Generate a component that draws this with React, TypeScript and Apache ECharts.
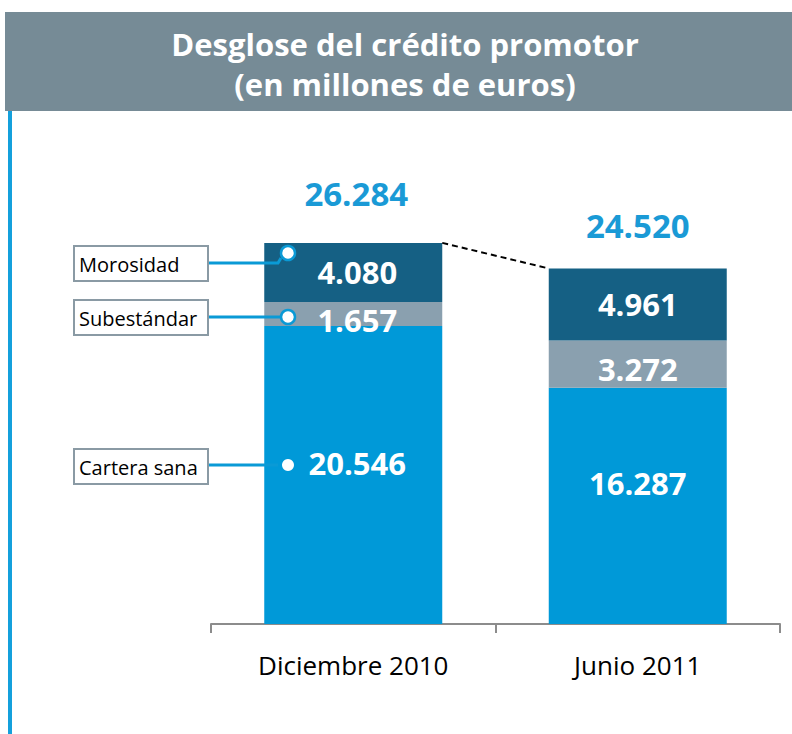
import React, { useEffect, useRef } from "react";
import * as echarts from "echarts";

const categories = ["Diciembre 2010", "Junio 2011"];
const carteraSana = [20546, 16287];
const subestandar = [1657, 3272];
const morosidad = [4080, 4961];
const totals = [26284, 24520];
const seriesNames = ["Cartera sana", "Subestándar", "Morosidad"];

const FONT = "'Open Sans', 'Noto Sans', sans-serif";
const fmt = (v: number) => v.toLocaleString("de-DE");

export default function App() {
  const ref = useRef<HTMLDivElement>(null);
  useEffect(() => {
    document.body.style.margin = "0";
    const chart = echarts.init(ref.current!, null, { renderer: "svg" });
    const valueLabel = {
      show: true,
      position: "inside",
      color: "#ffffff",
      fontFamily: FONT,
      fontWeight: "bold",
      fontSize: 31,
      formatter: (p: any) => fmt(p.value),
    };
    const withOffsets = (vals: number[], offs: number[][]) =>
      vals.map((v, i) => ({ value: v, label: { offset: offs[i] } }));
    const option: any = {
      animation: false,
      grid: { left: 211, right: 12, top: 189, bottom: 110 },
      xAxis: {
        type: "category",
        data: categories,
        axisLine: { lineStyle: { color: "#8c8c8c", width: 2 } },
        axisTick: { show: true, length: 9, lineStyle: { color: "#8c8c8c", width: 2 } },
        axisLabel: { color: "#000", fontFamily: FONT, fontSize: 26, margin: 28 },
      },
      yAxis: { type: "value", min: 0, max: 30000, show: false, splitLine: { show: false } },
      series: [
        {
          name: seriesNames[0],
          type: "bar",
          stack: "s",
          barWidth: 178,
          data: withOffsets(carteraSana, [[4, -12], [0, -23]]),
          itemStyle: { color: "#0099d8" },
          label: valueLabel,
        },
        {
          name: seriesNames[1],
          type: "bar",
          stack: "s",
          data: withOffsets(subestandar, [[4, 6], [0, 5]]),
          itemStyle: { color: "#8aa0af" },
          label: valueLabel,
        },
        {
          name: seriesNames[2],
          type: "bar",
          stack: "s",
          data: withOffsets(morosidad, [[4, 0], [0, 0]]),
          itemStyle: { color: "#156084" },
          label: valueLabel,
        },
        {
          name: "Total",
          type: "bar",
          stack: "s",
          data: withOffsets(totals.map(() => 0), [[3, 1], [0, 8]]),
          itemStyle: { color: "transparent" },
          label: {
            show: true,
            position: "top",
            distance: 34,
            color: "#1a9ad6",
            fontFamily: FONT,
            fontWeight: "bold",
            fontSize: 33,
            formatter: (p: any) => fmt(totals[p.dataIndex]),
          },
        },
      ],
    };
    chart.setOption(option);

    const p1 = chart.convertToPixel({ gridIndex: 0 }, [0, totals[0]]) as number[];
    const p2 = chart.convertToPixel({ gridIndex: 0 }, [1, totals[1]]) as number[];
    const half = 89;

    const box = (label: string, y: number, lineY: number, endX: number, endY: number, marker: any) => [
      {
        type: "rect",
        z: 100,
        shape: { x: 74, y, width: 134, height: 35 },
        style: { fill: "#fff", stroke: "#8a9aa4", lineWidth: 2 },
      },
      {
        type: "text",
        z: 101,
        x: 79,
        y: y + 18,
        style: { text: label, fill: "#000", font: `20px ${FONT}`, verticalAlign: "middle" },
      },
      {
        type: "polyline",
        z: 100,
        shape: { points: [[209, lineY], [278, lineY], [endX, endY]] },
        style: { stroke: "#0a9ad6", lineWidth: 3, fill: null },
      },
      { ...marker, z: 102 },
    ];

    chart.setOption({
      graphic: [
        {
          type: "rect",
          z: 100,
          shape: { x: 5, y: 12, width: 787, height: 99 },
          style: { fill: "#768b96" },
        },
        {
          type: "text",
          z: 101,
          x: 405,
          y: 64,
          style: {
            text: "Desglose del crédito promotor\n(en millones de euros)",
            fill: "#fff",
            font: `bold 31px ${FONT}`,
            align: "center",
            verticalAlign: "middle",
            lineHeight: 40,
          },
        },
        {
          type: "rect",
          z: 100,
          shape: { x: 8, y: 111, width: 4, height: 623 },
          style: { fill: "#14a0dc" },
        },
        {
          type: "line",
          z: 100,
          shape: { x1: p1[0] + half, y1: p1[1], x2: p2[0] - half, y2: p2[1] },
          style: { stroke: "#000", lineWidth: 2, lineDash: [6, 4] },
        },
        ...box("Morosidad", 246, 263, 281, 258, {
          type: "circle",
          shape: { cx: 288, cy: 253, r: 7 },
          style: { fill: "#fff", stroke: "#0a9ad6", lineWidth: 2.5 },
        }),
        ...box("Subestándar", 300, 317, 281, 317, {
          type: "circle",
          shape: { cx: 288, cy: 317, r: 7 },
          style: { fill: "#fff", stroke: "#0a9ad6", lineWidth: 2.5 },
        }),
        ...box("Cartera sana", 449, 465, 263, 465, {
          type: "circle",
          shape: { cx: 288, cy: 465, r: 6 },
          style: { fill: "#fff" },
        }),
      ],
    });
    return () => chart.dispose();
  }, []);
  return <div ref={ref} style={{ width: 792, height: 734 }} />;
}
